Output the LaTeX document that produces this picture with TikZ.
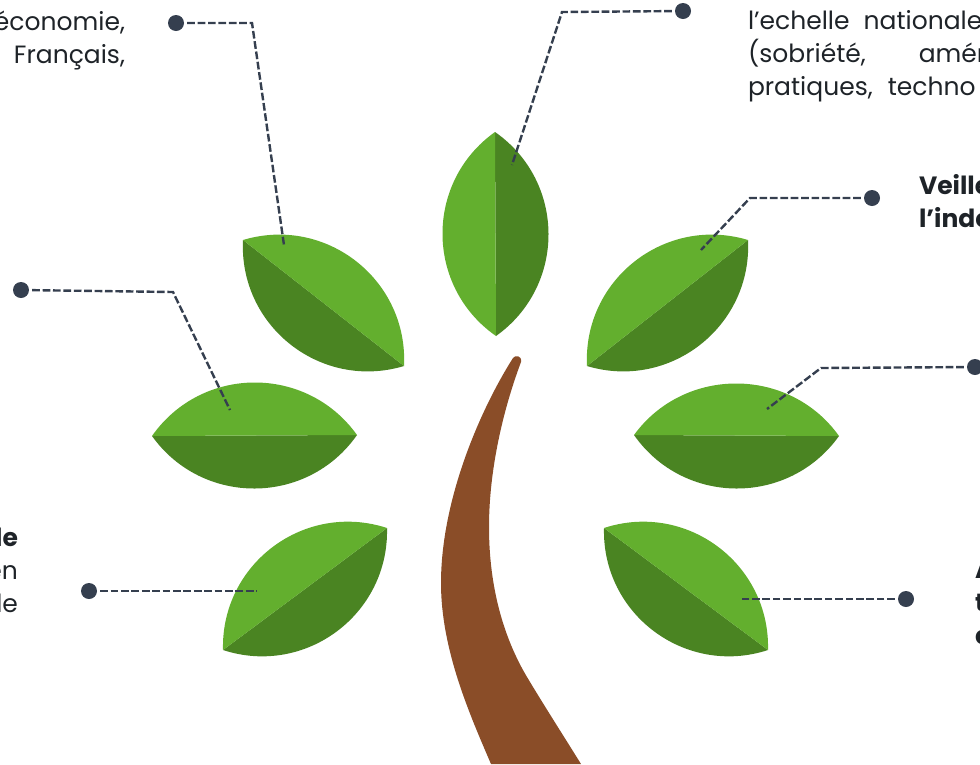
\documentclass[tikz,border=0pt]{standalone}
\usepackage{fontspec}
\setmainfont{Poppins}
\definecolor{leaflight}{HTML}{63AF2E}
\definecolor{leafdark}{HTML}{4A8422}
\definecolor{trunkbrown}{HTML}{8A4D28}
\definecolor{linkcol}{HTML}{353F4F}
\definecolor{txtcol}{HTML}{1E2328}
\tikzset{
  x=1pt,y=-1pt,
  pin/.style={circle,fill=linkcol,inner sep=0pt,minimum size=16pt,draw=none},
  link/.style={draw=linkcol,line width=2.4pt,dash pattern=on 7.7pt off 2.7pt,shorten <=3pt},
  para/.style={inner sep=0pt,outer sep=0pt,text=txtcol,font=\fontsize{25}{33}\selectfont,anchor=north west},
  parar/.style={para,anchor=north east,align=right},
  paral/.style={para,align=left}
}
% tip1 x, y, tip2 x, y, bulge towards colour side, colour
\newcommand{\leafhalf}[6]{%
  \pgfmathsetmacro{\ddx}{#3-#1}\pgfmathsetmacro{\ddy}{#4-#2}%
  \pgfmathsetmacro{\hh}{#5/0.75}%
  \pgfmathsetmacro{\nnx}{\ddy/veclen(\ddx,\ddy)*\hh}%
  \pgfmathsetmacro{\nny}{-\ddx/veclen(\ddx,\ddy)*\hh}%
  \fill[#6] (#1,#2) .. controls ({#1+0.244*\ddx+\nnx},{#2+0.244*\ddy+\nny}) and ({#1+0.756*\ddx+\nnx},{#2+0.756*\ddy+\nny}) .. (#3,#4) -- cycle;%
}
\begin{document}
\begin{tikzpicture}
\useasboundingbox (0,0) rectangle (980,764);
\clip (0,0) rectangle (980,764);
% trunk
\fill[trunkbrown] (513,358) .. controls (515,355) and (522,355) .. (521,362)
  .. controls (503,410) and (489,470) .. (489,527)
  .. controls (489,590) and (505,640) .. (527,677)
  .. controls (545,707) and (563,735) .. (581,764)
  -- (491,764)
  .. controls (470,715) and (441,650) .. (441,583)
  .. controls (441,500) and (480,410) .. (513,358) -- cycle;
% leaves
\leafhalf{495}{132}{496}{336}{53}{leafdark}
\leafhalf{495}{132}{496}{336}{-53}{leaflight}
\leafhalf{243}{240}{404}{366}{-53}{leafdark}
\leafhalf{243}{240}{404}{366}{53}{leaflight}
\leafhalf{748}{240}{587}{366}{53}{leafdark}
\leafhalf{748}{240}{587}{366}{-53}{leaflight}
\leafhalf{152}{436}{357}{435}{-53}{leafdark}
\leafhalf{152}{436}{357}{435}{53}{leaflight}
\leafhalf{634}{435}{839}{436}{-53}{leafdark}
\leafhalf{634}{435}{839}{436}{52}{leaflight}
\leafhalf{387}{528}{223}{650}{53}{leafdark}
\leafhalf{387}{528}{223}{650}{-53}{leaflight}
\leafhalf{604}{528}{768}{650}{-53}{leafdark}
\leafhalf{604}{528}{768}{650}{53}{leaflight}
% pins and corners
\node[pin] (p1) at (176,23) {};
\node[pin] (p2) at (683,11) {};
\node[pin] (p3) at (872,198) {};
\node[pin] (p4) at (975,367) {};
\node[pin] (p5) at (906,599) {};
\node[pin] (p6) at (89,591) {};
\node[pin] (p7) at (21,290) {};
\coordinate (c1) at (252,23);  \coordinate (e1) at (284,245);
\coordinate (c2) at (562,12);  \coordinate (e2) at (512,165);
\coordinate (c3) at (750,198); \coordinate (e3) at (701,250);
\coordinate (c4) at (821,368); \coordinate (e4) at (767,409);
\coordinate (e5) at (739,599);
\coordinate (e6) at (257,591);
\coordinate (c7) at (173,292); \coordinate (e7) at (230,410);
\draw[link] (p1) -- (c1) -- (e1);
\draw[link] (p2) -- (c2) -- (e2);
\draw[link] (p3) -- (c3) -- (e3);
\draw[link] (p4) -- (c4) -- (e4);
\draw[link] (p5) -- (e5);
\draw[link] (p6) -- (e6);
\draw[link] (p7) -- (c7) -- (e7);
% texts
\node[parar] (t1) at (125,11) {économie,\\Français,};
\node[paral] (t2) at (748,10) {l’echelle\hspace{14pt}nationale\\(sobriété,\hspace{53pt}amén\\pratiques,\hspace{15pt}techno};
\node[paral] (t3) at (919,174) {\textbf{Veille}\\\textbf{l’inde}};
\node[parar] (t4) at (18,528) {\textbf{le}\\en\\le};
\node[paral] (t5) at (975,561) {\textbf{A}\\\textbf{t}\\\textbf{c}};
\end{tikzpicture}
\end{document}
